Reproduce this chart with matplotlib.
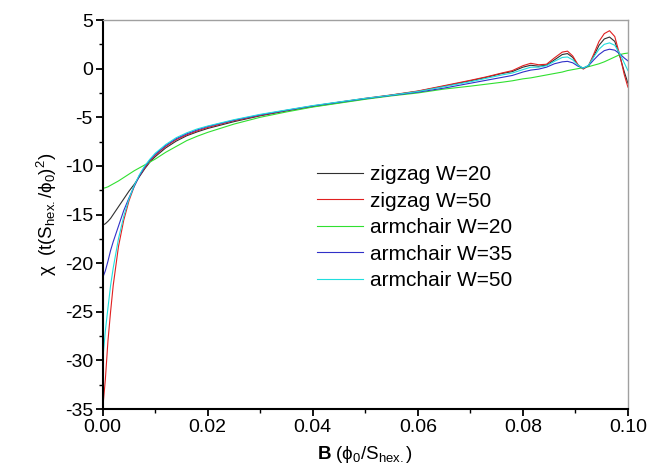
import numpy as np
import matplotlib
matplotlib.use("Agg")
import matplotlib.pyplot as plt
from matplotlib.ticker import MultipleLocator

plt.rcParams['font.family'] = ['Liberation Sans', 'DejaVu Sans']
plt.rcParams['mathtext.fontset'] = 'custom'
plt.rcParams['mathtext.rm'] = 'Liberation Sans'
plt.rcParams['mathtext.it'] = 'Liberation Sans:italic'
plt.rcParams['mathtext.bf'] = 'Liberation Sans:bold'
plt.rcParams['axes.unicode_minus'] = False

# field values (phi0 / S_hex), shared by all curves
B = [0, 0.0005, 0.001, 0.0015, 0.002, 0.003, 0.004, 0.005, 0.006, 0.007,
     0.008, 0.009, 0.010, 0.012, 0.014, 0.016, 0.018, 0.020, 0.025, 0.030,
     0.035, 0.040, 0.045, 0.050, 0.055, 0.060, 0.065, 0.070, 0.073, 0.076,
     0.078, 0.080, 0.0815, 0.083, 0.0845, 0.086, 0.0875, 0.0885, 0.0895, 0.0905,
     0.0915, 0.0925, 0.0935, 0.0945, 0.0955, 0.0965, 0.0975, 0.0985, 0.0993, 0.1]

zigzag_20 = [-16.1, -15.95, -15.7, -15.4, -15.0, -14.2, -13.4, -12.6, -11.9, -11.1,
             -10.3, -9.6, -9.05, -8.15, -7.45, -6.9, -6.5, -6.15, -5.45, -4.85,
             -4.35, -3.9, -3.5, -3.1, -2.72, -2.33, -1.8, -1.25, -0.9, -0.5,
             -0.3, 0.15, 0.35, 0.25, 0.35, 0.9, 1.45, 1.55, 1.15, 0.35,
             0.0, 0.3, 1.3, 2.4, 3.05, 3.25, 2.8, 1.2, -0.3, -1.5]

zigzag_50 = [-35.0, -32.0, -28.0, -25.0, -22.3, -18.3, -15.6, -13.6, -12.1, -11.0,
             -10.2, -9.5, -8.9, -8.0, -7.3, -6.8, -6.4, -6.05, -5.35, -4.8,
             -4.3, -3.85, -3.45, -3.05, -2.7, -2.3, -1.75, -1.2, -0.85, -0.45,
             -0.2, 0.3, 0.55, 0.4, 0.45, 1.1, 1.7, 1.8, 1.3, 0.4,
             -0.05, 0.3, 1.5, 2.8, 3.6, 3.9, 3.3, 1.3, -0.6, -1.9]

armchair_20 = [-12.3, -12.25, -12.15, -12.0, -11.85, -11.55, -11.2, -10.85, -10.5, -10.2,
               -9.9, -9.6, -9.3, -8.6, -8.0, -7.4, -6.95, -6.55, -5.7, -5.0,
               -4.45, -3.95, -3.55, -3.15, -2.8, -2.5, -2.1, -1.8, -1.6, -1.4,
               -1.25, -1.05, -0.95, -0.8, -0.65, -0.5, -0.35, -0.2, -0.1, 0.0,
               0.1, 0.2, 0.35, 0.5, 0.7, 0.95, 1.2, 1.45, 1.55, 1.6]

armchair_35 = [-21.5, -20.8, -19.8, -18.7, -17.8, -16.2, -14.6, -13.3, -12.1, -11.0,
               -10.1, -9.4, -8.8, -7.9, -7.2, -6.7, -6.3, -5.95, -5.3, -4.75,
               -4.28, -3.83, -3.45, -3.08, -2.75, -2.42, -2.0, -1.5, -1.2, -0.9,
               -0.7, -0.35, -0.15, -0.05, 0.15, 0.5, 0.7, 0.75, 0.6, 0.25,
               0.05, 0.3, 0.9, 1.45, 1.85, 2.0, 1.9, 1.5, 1.1, 0.8]

armchair_50 = [-30.0, -27.0, -24.6, -22.3, -20.5, -17.5, -15.2, -13.4, -12.0, -10.9,
               -10.0, -9.3, -8.7, -7.8, -7.1, -6.6, -6.2, -5.9, -5.25, -4.7,
               -4.25, -3.8, -3.42, -3.05, -2.72, -2.35, -1.85, -1.35, -1.0, -0.65,
               -0.45, -0.1, 0.15, 0.15, 0.3, 0.75, 1.15, 1.2, 0.9, 0.35,
               0.05, 0.35, 1.2, 2.0, 2.5, 2.65, 2.4, 1.5, 0.6, -0.2]

series = [("zigzag W=20", zigzag_20, "#303030"),
          ("zigzag W=50", zigzag_50, "#e02020"),
          ("armchair W=20", armchair_20, "#30e030"),
          ("armchair W=35", armchair_35, "#3030c8"),
          ("armchair W=50", armchair_50, "#20dede")]

fig = plt.figure(figsize=(6.5, 4.71), dpi=100)
ax = fig.add_axes([0.158, 0.1316, 0.808, 0.8259])

for label, vals, col in series:
    ax.plot(B, vals, color=col, lw=0.8, label=label)

ax.set_xlim(0, 0.1)
ax.set_ylim(-35, 5)
ax.xaxis.set_major_locator(MultipleLocator(0.02))
ax.xaxis.set_minor_locator(MultipleLocator(0.01))
ax.yaxis.set_major_locator(MultipleLocator(5))
ax.yaxis.set_minor_locator(MultipleLocator(2.5))
ax.xaxis.set_major_formatter(plt.FormatStrFormatter('%.2f'))

for s in ['left', 'bottom']:
    ax.spines[s].set_linewidth(1.5)
    ax.spines[s].set_color('black')
for s in ['top', 'right']:
    ax.spines[s].set_linewidth(1.0)
    ax.spines[s].set_color('#a0a0a0')

ax.tick_params(which='major', direction='out', length=5, width=1.3, labelsize=14,
               top=False, right=False, pad=2)
ax.tick_params(which='minor', direction='out', length=3, width=1.0,
               top=False, right=False)

ax.set_xlabel(r'$\mathbf{B}$ (ϕ$_0$/S$_\mathrm{hex.}$)', fontsize=13.5, labelpad=6)
ax.set_ylabel(r'χ  (t(S$_\mathrm{hex.}$/ϕ$_0$)$^2$)', fontsize=13.5, labelpad=4)

ax.legend(loc='upper left', bbox_to_anchor=(0.408, 0.627), frameon=False,
          fontsize=15, handlelength=2.2, handletextpad=0.34, labelspacing=0.36,
          borderaxespad=0, borderpad=0)

fig.savefig("out.png", dpi=100)
